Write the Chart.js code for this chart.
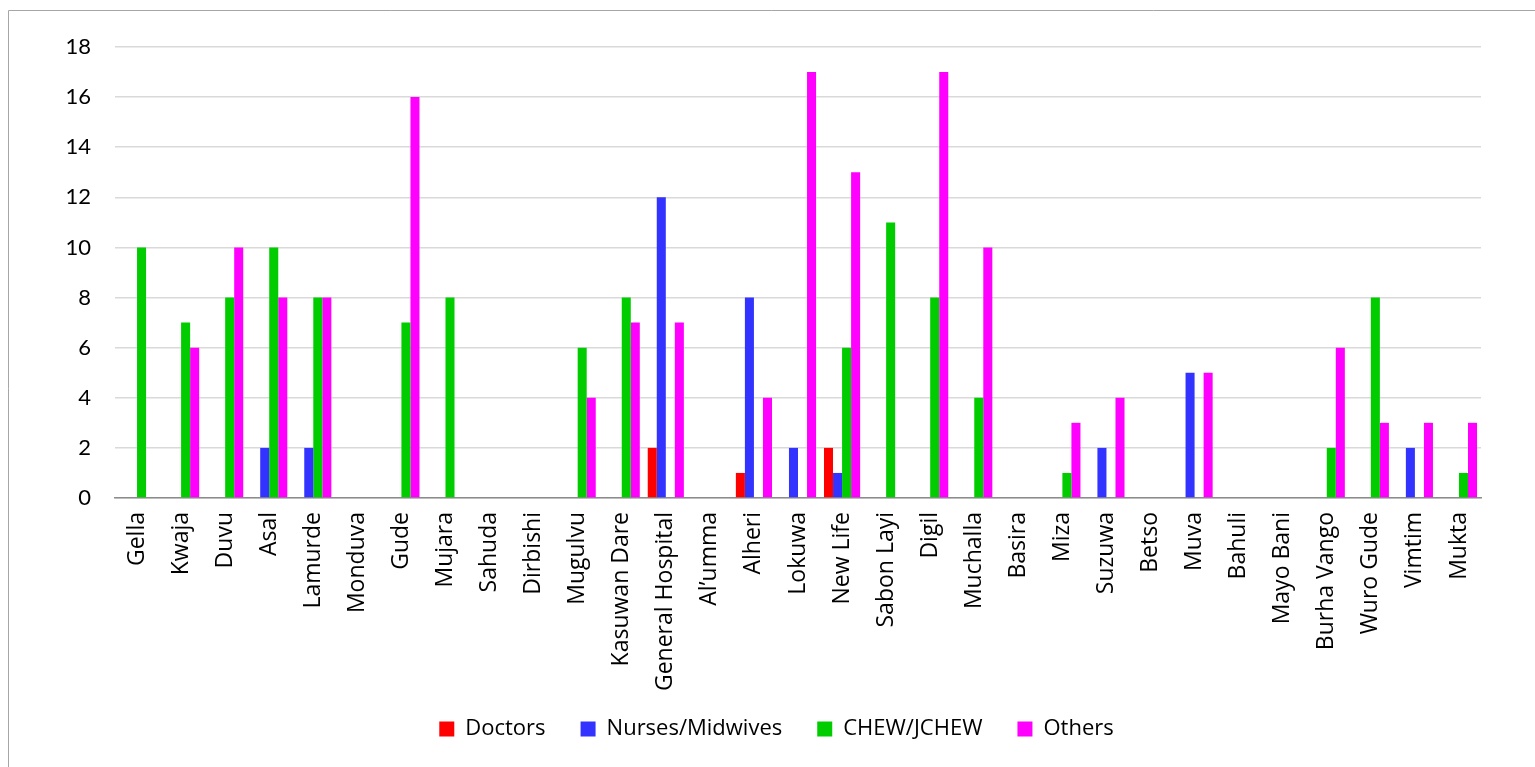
<!DOCTYPE html>
<html>
<head>
<meta charset="utf-8">
<script src="https://cdn.jsdelivr.net/npm/chart.js@4.4.1/dist/chart.umd.min.js"></script>
<style>
  html, body { margin: 0; padding: 0; background: #ffffff; }
  #wrap { position: relative; width: 1535px; height: 767px; }
</style>
</head>
<body>
<div id="wrap"><canvas id="c" width="1535" height="767"></canvas></div>
<script>
// Health facilities (x axis)
const facilities = [
  "Gella", "Kwaja", "Duvu", "Asal", "Lamurde", "Monduva", "Gude", "Mujara",
  "Sahuda", "Dirbishi", "Mugulvu", "Kasuwan Dare", "General Hospital", "Al\u2019umma",
  "Alheri", "Lokuwa", "New Life", "Sabon Layi", "Digil", "Muchalla", "Basira",
  "Miza", "Suzuwa", "Betso", "Muva", "Bahuli", "Mayo Bani", "Burha Vango",
  "Wuro Gude", "Vimtim", "Mukta"
];

// Staff counts per facility
const doctors = [0,0,0,0,0,0,0,0,0,0,0,0,2,0,1,0,2,0,0,0,0,0,0,0,0,0,0,0,0,0,0];
const nursesMidwives = [0,0,0,2,2,0,0,0,0,0,0,0,12,0,8,2,1,0,0,0,0,0,2,0,5,0,0,0,0,2,0];
const chewJchew = [10,7,8,10,8,0,7,8,0,0,6,8,0,0,0,0,6,11,8,4,0,1,0,0,0,0,0,2,8,0,1];
const others = [0,6,10,8,8,0,16,0,0,0,4,7,7,0,4,17,13,0,17,10,0,3,4,0,5,0,0,6,3,3,3];

// Y axis ticks
const yTicks = [0, 2, 4, 6, 8, 10, 12, 14, 16, 18];

const seriesNames = ["Doctors", "Nurses/Midwives", "CHEW/JCHEW", "Others"];
const seriesColors = ["#FF0000", "#3333FF", "#00CC00", "#FF00FF"];
const seriesData = [doctors, nursesMidwives, chewJchew, others];

// Outer frame around the chart
const framePlugin = {
  id: "frame",
  beforeDraw(chart) {
    const ctx = chart.ctx;
    ctx.save();
    ctx.fillStyle = "#ffffff";
    ctx.fillRect(0, 0, chart.width, chart.height);
    ctx.strokeStyle = "#a6a6a6";
    ctx.lineWidth = 1;
    ctx.beginPath();
    ctx.moveTo(8.5, chart.height);
    ctx.lineTo(8.5, 10.5);
    ctx.lineTo(chart.width, 10.5);
    ctx.stroke();
    ctx.restore();
  }
};

// Let the long rotated category names run past the axis box,
// and nudge the legend row into place under the plot
const legendShiftX = 32;
const legendShiftY = 4;
const layoutTweaks = {
  id: "layoutTweaks",
  afterLayout(chart) {
    const x = chart.scales.x;
    if (x) x.bottom = chart.height;
    if (chart.legend) {
      chart.legend.left += legendShiftX;
      chart.legend.right += legendShiftX;
      chart.legend.top += legendShiftY;
      chart.legend.bottom += legendShiftY;
    }
  }
};

new Chart(document.getElementById("c"), {
  type: "bar",
  data: {
    labels: facilities,
    datasets: seriesNames.map((name, i) => ({
      label: name,
      data: seriesData[i],
      backgroundColor: seriesColors[i],
      borderWidth: 0,
      categoryPercentage: 0.82,
      barPercentage: 1.0
    }))
  },
  options: {
    responsive: false,
    animation: false,
    devicePixelRatio: 1,
    layout: { padding: { left: 8, right: 54, top: 47, bottom: 21 } },
    plugins: {
      legend: {
        position: "bottom",
        labels: {
          boxWidth: 15,
          boxHeight: 15,
          padding: 35,
          color: "#000000",
          font: { family: "'Open Sans'", size: 22 }
        }
      },
      tooltip: { enabled: false }
    },
    scales: {
      x: {
        grid: { display: false, drawTicks: false },
        border: { display: true, color: "#8c8c8c", width: 1.5 },
        ticks: {
          autoSkip: false,
          minRotation: 90,
          maxRotation: 90,
          padding: 14,
          color: "#000000",
          font: { family: "'Open Sans'", size: 23 }
        },
        afterFit(scale) { scale.height = 181; }
      },
      y: {
        min: 0,
        max: 18,
        afterBuildTicks(scale) { scale.ticks = yTicks.map(v => ({ value: v })); },
        grid: { color: "#d9d9d9", lineWidth: 1.5, drawTicks: false },
        border: { display: false },
        ticks: {
          padding: 24,
          color: "#000000",
          font: { family: "Lato", size: 22 }
        },
        afterFit(scale) { scale.width = 107; }
      }
    }
  },
  plugins: [framePlugin, layoutTweaks]
});
</script>
</body>
</html>
